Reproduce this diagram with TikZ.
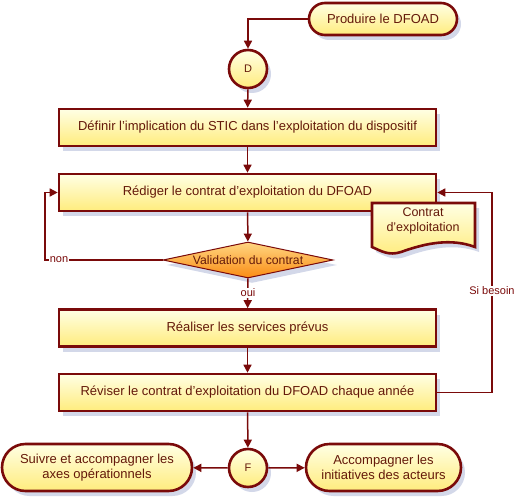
\documentclass[tikz,border=0pt]{standalone}
\usepackage{fontspec}
\setmainfont{Liberation Sans}
\usetikzlibrary{shapes.geometric,shapes.misc,shadows,arrows.meta}

\definecolor{bord}{RGB}{122,10,10}
\definecolor{texte}{RGB}{100,25,10}
\definecolor{jauneH}{RGB}{255,255,228}
\definecolor{jauneB}{RGB}{255,236,125}
\definecolor{orangeH}{RGB}{255,214,130}
\definecolor{orangeB}{RGB}{250,140,20}
\definecolor{ombre}{RGB}{200,206,228}

\tikzset{
	ombrage/.style={drop shadow={shadow xshift=4pt, shadow yshift=-5pt, fill=ombre, opacity=.8}},
	etape/.style={rectangle, draw=bord, line width=2.6pt, top color=jauneH, bottom color=jauneB,
		minimum width=377pt, minimum height=37pt, inner sep=0pt, text=texte, ombrage},
	terminal/.style={rounded rectangle, draw=bord, line width=2.6pt, top color=jauneH, bottom color=jauneB,
		inner sep=0pt, text=texte, align=center, ombrage},
	renvoi/.style={circle, draw=bord, line width=2.6pt, top color=jauneH, bottom color=jauneB,
		minimum size=38pt, inner sep=0pt, text=texte, font=\fontsize{11}{13}\selectfont, ombrage},
	decision/.style={diamond, draw=bord, line width=1pt, top color=orangeH, bottom color=orangeB,
		minimum width=170pt, minimum height=36pt, aspect=4.8, inner sep=0pt, text=texte,
		font=\fontsize{12.2}{14}\selectfont, ombrage},
	fleche/.style={draw=bord, line width=1.5pt, -{Triangle[length=8pt,width=8pt]}},
	lien/.style={draw=bord, line width=1.5pt},
	etiq/.style={fill=white, inner sep=1pt, text=bord, font=\fontsize{11}{13}\selectfont}
}

\begin{document}
\begin{tikzpicture}[x=1pt, y=-1pt, font=\fontsize{13}{15}\selectfont]
	\useasboundingbox (0,0) rectangle (516,500);

	% Debut
	\node[terminal, minimum width=148pt, minimum height=32pt] (produire) at (383,19) {Produire le DFOAD};
	\node[renvoi] (D) at (248,69) {D};

	% Etapes
	\node[etape] (definir) at (247.5,127.5) {Définir l’implication du STIC dans l’exploitation du dispositif};
	\node[etape] (rediger) at (247.5,192.5) {Rédiger le contrat d’exploitation du DFOAD};
	\node[decision] (valid) at (248,260) {Validation du contrat};
	\node[etape] (realiser) at (247.5,328) {Réaliser les services prévus};
	\node[etape] (reviser) at (247.5,392.5) {Réviser le contrat d’exploitation du DFOAD chaque année};

	% Document
	\fill[ombre, opacity=.8] (376,208) -- (479,208) -- (479,252) .. controls (455,243) and (430,248) .. (405,257) .. controls (393,261) and (385,256) .. (376,252) -- cycle;
	\draw[bord, line width=2.6pt, top color=jauneH, bottom color=jauneB] (372,203) -- (475,203) -- (475,247) .. controls (451,238) and (426,243) .. (401,252) .. controls (389,256) and (381,251) .. (372,247) -- cycle;
	\node[text=texte, align=center, font=\fontsize{12.5}{15}\selectfont] (contrat) at (423,221) {Contrat\\d’exploitation};

	% Fin
	\node[renvoi] (F) at (248,468) {F};
	\node[terminal, minimum width=190pt, minimum height=47pt] (suivre) at (97,467.5) {Suivre et accompagner les\\axes opérationnels};
	\node[terminal, minimum width=155pt, minimum height=47pt] (accomp) at (383.5,467.5) {Accompagner les\\initiatives des acteurs};

	% Liens
	\draw[fleche] (produire.west) -| (D.north);
	\draw[fleche] (D) -- (definir);
	\draw[fleche] (definir) -- (rediger);
	\draw[fleche] (rediger) -- (valid);
	\draw[fleche] (valid) -- (realiser);
	\draw[fleche] (realiser) -- (reviser);
	\draw[fleche] (reviser) -- (F);
	\draw[fleche] (F) -- (suivre);
	\draw[fleche] (F) -- (accomp);

	% Boucles
	\coordinate (non) at (45,260);
	\coordinate (besoin) at (492,392.5);
	\draw[fleche] (valid.west) -- (non) |- (rediger.west);
	\draw[fleche] (reviser.east) -- (besoin) |- (rediger.east);

	% Etiquettes
	\node[etiq] (lnon) at (59,260) {non};
	\node[etiq] (loui) at (248,293) {oui};
	\node[etiq] (lbesoin) at (492,291) {Si besoin};
\end{tikzpicture}
\end{document}
